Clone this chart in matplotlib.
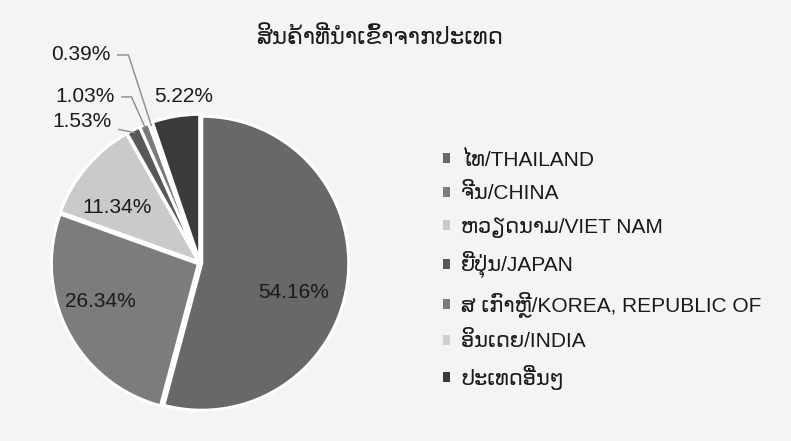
import matplotlib
matplotlib.use("Agg")
import numpy as np
import matplotlib.pyplot as plt
from matplotlib.patches import Patch

plt.rcParams['font.family'] = ['Liberation Sans', 'DejaVu Sans']

# data
title = "ສິນຄ້າທີ່ນຳເຂົ້າຈາກປະເທດ"
countries = ["ໄທ/THAILAND", "ຈີນ/CHINA", "ຫວຽດນາມ/VIET NAM", "ຍີ່ປຸ່ນ/JAPAN",
             "ສ ເກົາຫຼີ/KOREA, REPUBLIC OF", "ອິນເດຍ/INDIA", "ປະເທດອື່ນໆ"]
shares = [54.16, 26.34, 11.34, 1.53, 1.03, 0.39, 5.22]
colors = ['#686868', '#7c7c7c', '#cacaca', '#585858', '#7a7a7a', '#cfcfcf', '#3b3b3b']

bg = '#f4f4f4'
fig = plt.figure(figsize=(7.91, 4.41), dpi=100, facecolor=bg)

# square axes centred on the pie (centre ~ (200, 263) px, radius ~147 px)
R = 147.0
side = 2 * R * 1.1
cx, cy = 200.0, 441 - 263.0
ax = fig.add_axes([(cx - side / 2) / 791, (cy - side / 2) / 441, side / 791, side / 441])
ax.set_facecolor(bg)

wedges, _ = ax.pie(shares, colors=colors, startangle=90, counterclock=False,
                   explode=[0.012] * len(shares),
                   wedgeprops=dict(edgecolor='white', linewidth=2.2))
ax.set_xlim(-1.1, 1.1)
ax.set_ylim(-1.1, 1.1)
ax.set_aspect('equal')
ax.axis('off')

labels = ["%.2f%%" % v for v in shares]
lab_fs = 15

# big slices: labels inside / just above
inside_pos = {0: (0.64, -0.20), 1: (-0.68, -0.265), 2: (-0.565, 0.38), 6: (-0.11, 1.13)}
for i, (x, y) in inside_pos.items():
    ax.text(x, y, labels[i], ha='center', va='center', fontsize=lab_fs, color='#1a1a1a')

# small slices: labels outside with leader lines
def mid_point(w, r=1.0):
    a = np.deg2rad((w.theta1 + w.theta2) / 2)
    return w.center[0] + r * w.r * np.cos(a), w.center[1] + r * w.r * np.sin(a)

small = {3: ((-0.60, 0.96), 'arc3'),
         4: ((-0.58, 1.13), 'angle,angleA=0,angleB=114,rad=0'),
         5: ((-0.61, 1.415), 'angle,angleA=0,angleB=108,rad=0')}
for i, (xytext, cs) in small.items():
    ax.annotate(labels[i], xy=mid_point(wedges[i], 0.98), xytext=xytext,
                ha='right', va='center', fontsize=lab_fs, color='#1a1a1a',
                annotation_clip=False,
                arrowprops=dict(arrowstyle='-', color='#8a8a8a', lw=1.0,
                                connectionstyle=cs, shrinkA=3, shrinkB=0))

fig.text(380 / 791, 1 - 38 / 441, title, ha='center', va='center', fontsize=16.5, color='#1a1a1a')

handles = [Patch(facecolor=c, edgecolor='none') for c in colors]
fig.legend(handles, countries, loc='upper left', bbox_to_anchor=(424 / 791, 1 - 132 / 441),
           frameon=False, fontsize=15, handlelength=0.37, handleheight=0.37,
           handletextpad=0.5, labelspacing=0.65, labelcolor='#1a1a1a')

fig.savefig('out.png', dpi=100, facecolor=bg)
